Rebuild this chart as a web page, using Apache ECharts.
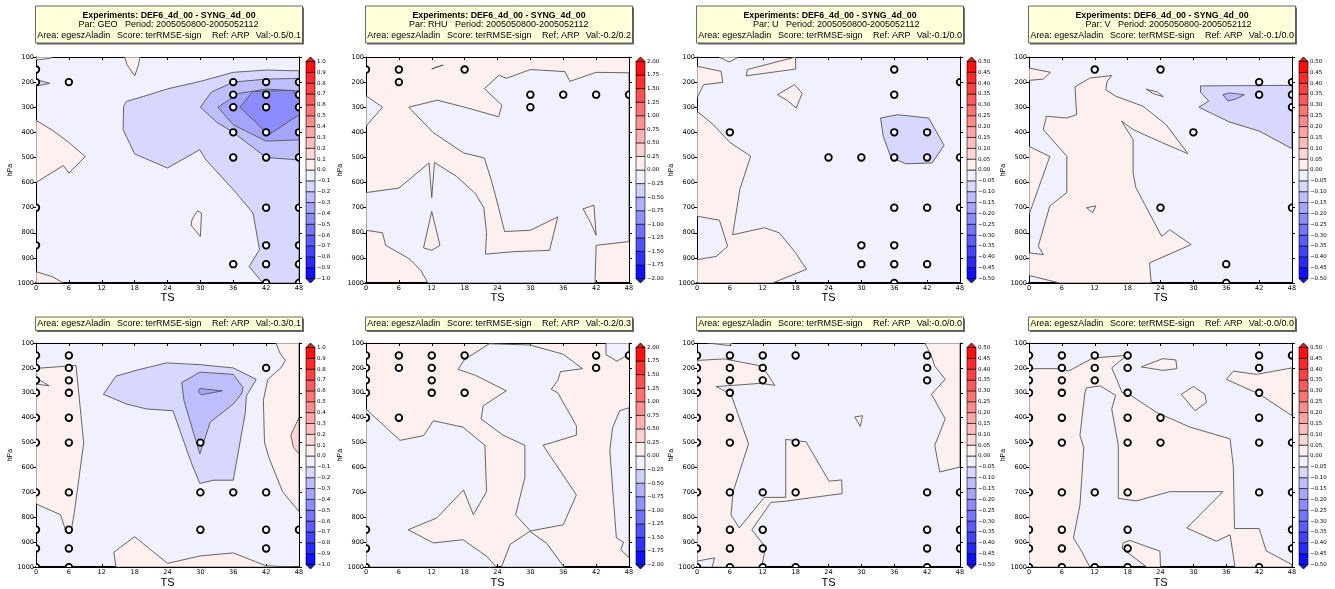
<!DOCTYPE html>
<html>
<head>
<meta charset="utf-8">
<script src="https://cdn.jsdelivr.net/npm/echarts@6/dist/echarts.min.js"></script>
<style>html,body{margin:0;background:#fff}#chart{width:1335px;height:589px}</style>
</head>
<body>
<div id="chart"></div>
<script>
// panel order: top row GEO, RHU, U, V; bottom row the same parameters
const parNames = ['GEO', 'RHU', 'U', 'V', 'GEO', 'RHU', 'U', 'V'];
const valTexts = ['-0.5/0.1', '-0.2/0.2', '-0.1/0.0', '-0.1/0.0', '-0.3/0.1', '-0.2/0.3', '-0.0/0.0', '-0.0/0.0'];
const barSteps = [0.1, 0.25, 0.05, 0.05, 0.1, 0.25, 0.05, 0.05];
const barBands = [10, 8, 10, 10, 10, 8, 10, 10];
const barDecimals = [1, 2, 2, 2, 1, 2, 2, 2];
// band index of the field where no contour region is drawn (-1 = just below 0, 1 = just above 0)
const bgLevels = [-1, 1, -1, -1, -1, 1, -1, -1];

// contour regions: [band index, [[TS, hPa], ...]]
const geoTopRegions = [
  [1, [[0, 100], [3, 100], [2.5, 106], [0, 112]]],
  [1, [[16.2, 100], [19, 100], [18.6, 140], [18, 175], [16.6, 130]]],
  [1, [[0, 352], [3, 392], [6, 440], [9, 497], [6, 562], [5, 532], [0, 600]]],
  [1, [[28.5, 745], [29.5, 712], [30.2, 722], [30, 815], [28.3, 770]]],
  [1, [[0, 955], [3, 975], [5, 1000], [0, 1000]]],
  [-2, [[0, 190], [2.5, 205], [0, 216]]],
  [-2, [[48, 155], [42, 152], [36, 161], [30, 197], [24, 227], [19.6, 257], [16.5, 277], [16, 296], [15.9, 389], [18, 486], [24, 542], [29.9, 469], [31, 509], [36, 628], [39.6, 721], [40.8, 867], [38.9, 934], [41.4, 1000], [48, 1000]]],
  [-3, [[48, 185], [42, 188], [36, 200], [32, 240], [30, 300], [33, 360], [36, 400], [42, 500], [48, 510]]],
  [-4, [[48, 235], [42, 228], [37, 245], [33.2, 300], [36, 370], [42, 435], [48, 430]]],
  [-5, [[37.2, 300], [39.6, 237], [46.9, 233], [48, 270], [48, 330], [42.5, 410]]]
];
const rhuTopRegions = [
  [-1, [[0, 254], [3, 300], [0, 376]]],
  [-1, [[12, 148], [14.1, 132], [12.7, 141]]],
  [-1, [[0, 640], [6, 622], [11.5, 522], [12, 660], [12.5, 520], [16.5, 575], [20, 645], [21.5, 700], [22, 800], [21.8, 885], [27, 875], [33.5, 870], [35, 737], [30, 790], [25.3, 795], [24.2, 700], [23, 600], [21.6, 502], [17.8, 482], [12.2, 400], [7.8, 300], [13, 272], [18, 300], [24.2, 338], [24.8, 292], [21.6, 226], [24.3, 172], [25.6, 185], [30, 150], [36.3, 158], [37.2, 197], [42, 161], [48, 163], [48, 835], [42, 850], [41.8, 1000], [11.3, 1000], [10, 950], [8, 905], [3.6, 850], [3, 800], [0, 790]]],
  [1, [[10.5, 860], [12, 715], [13.5, 850], [12, 870]]],
  [1, [[39.6, 705], [41.6, 690], [42, 810], [41, 760]]]
];
const uTopRegions = [
  [1, [[4, 100], [7.6, 100], [5.9, 120]]],
  [1, [[0, 137], [4.4, 157], [4.7, 201], [1.2, 210], [0, 263]]],
  [1, [[9, 175], [9.2, 150], [18, 100], [18, 148]]],
  [1, [[14.7, 250], [17.8, 210], [19.2, 245], [18.1, 303], [16.4, 272]]],
  [1, [[0, 316], [3, 370], [6, 440], [9.8, 495], [7.8, 628], [7.3, 700], [6.5, 808], [12.3, 780], [15, 800], [18, 880], [19.5, 930], [20, 945], [13.8, 1000], [0, 1000], [0, 907], [3.5, 894], [5.6, 854], [4.1, 750], [0, 734]]],
  [-2, [[33.5, 343], [36.6, 330], [42.3, 343], [45.1, 452], [42.9, 522], [38.1, 525], [35.4, 500], [34, 416]]]
];
const vTopRegions = [
  [1, [[0, 144], [3.9, 161], [2.6, 188], [0, 193]]],
  [1, [[0, 456], [3.8, 496], [0, 728]]],
  [1, [[15.1, 174], [14.3, 195], [14, 230], [15.8, 256], [20.8, 296], [25, 369], [29, 485], [24.4, 442], [19, 389], [16.9, 356], [19, 429], [19, 562], [19.5, 620], [24.2, 814], [25.7, 788], [29.6, 847], [22, 920], [22.3, 1000], [5.6, 1000], [0, 970], [0, 880], [2.6, 887], [1.7, 853], [3.8, 693], [6.9, 640], [6.9, 495], [2.6, 389], [3.2, 336], [6.9, 343], [8.7, 330], [8.4, 219], [11.1, 184]]],
  [-1, [[10.5, 700], [12.2, 693], [11.6, 720]]],
  [1, [[21.4, 228], [23.5, 240], [24.5, 258], [22.6, 245]]],
  [-2, [[31.3, 215], [48, 213], [48, 465], [42, 395], [36.5, 358], [31, 300], [32.8, 275], [31.3, 240]]],
  [-3, [[35.4, 250], [36.6, 243], [39.3, 250], [37.7, 268], [36.3, 275]]]
];
const geoBotRegions = [
  [1, [[0, 202], [7.3, 190], [7.8, 300], [8.7, 502], [7, 780], [6.5, 845], [5.5, 860], [4.5, 790], [0, 746]]],
  [-1, [[0, 240], [2.4, 272], [0, 265]]],
  [1, [[43.8, 100], [48, 100], [48, 777], [45, 697], [42.5, 560], [41.7, 498], [41.5, 330], [42.3, 246], [44.7, 200], [45.5, 170], [44.5, 140]]],
  [2, [[48, 400], [46.5, 470], [47, 520], [48, 545]]],
  [1, [[14.6, 1000], [14.2, 940], [18, 878], [24, 985], [30, 955], [36, 943], [42, 995], [48, 1000]]],
  [-2, [[12.3, 306], [14.6, 233], [18.4, 209], [23.8, 180], [29.9, 187], [36, 200], [40.2, 246], [38.4, 312], [38.2, 380], [36, 651], [32.4, 651], [29.9, 664], [28.5, 590], [26.6, 472], [25, 372], [20.2, 365], [16.5, 345]]],
  [-3, [[26.6, 259], [29.9, 217], [36, 226], [37.8, 279], [37.5, 305], [36, 345], [31.8, 418], [29.9, 545], [28.6, 450], [27, 330]]],
  [-4, [[29.6, 296], [29.9, 283], [34, 292], [30.2, 308]]]
];
const rhuBotRegions = [
  [-1, [[43.8, 100], [48, 100], [48, 145], [45.8, 173], [43.8, 147]]],
  [-1, [[16.8, 206], [18, 166], [22.5, 103], [29.9, 108], [36, 145], [39.5, 203], [35.5, 215], [35, 250], [33.8, 286], [35, 300], [38.4, 432], [38.4, 470], [32.3, 511], [38.4, 710], [36, 830], [30, 855], [27.3, 790], [29, 640], [29, 511], [25, 470], [21, 405], [21.4, 352], [25.6, 292], [20, 230]]],
  [-1, [[0, 365], [6.2, 491], [10.5, 472], [12.3, 412], [17.7, 438], [21.7, 511], [22, 697], [19.6, 790], [17.8, 690], [12.9, 803], [7.7, 850], [12.3, 903], [17.7, 890], [22, 956], [23.8, 1000], [0, 1000]]],
  [-1, [[24.7, 1000], [26.3, 909], [29.9, 856], [33, 905], [36, 996], [36.3, 1000]]],
  [-1, [[48, 360], [46.3, 372], [45, 440], [44.5, 531], [45.1, 710], [45.7, 883], [47, 900], [46.5, 930], [48, 962]]]
];
const uBotRegions = [
  [1, [[2, 100], [6.5, 100], [5.8, 110]]],
  [1, [[0, 170], [5, 164], [11.9, 193], [14.2, 270], [11.6, 262], [3.5, 275], [6.2, 306], [9.4, 505], [6.6, 697], [6.2, 790], [7.7, 843], [12.3, 720], [16.2, 720], [16.2, 487], [19.9, 497], [24.1, 655], [26.4, 650], [26.5, 705], [24, 712], [16.3, 735], [13.5, 740], [10, 850], [12.5, 920], [11.8, 1000], [0, 1000]]],
  [-1, [[0, 976], [3.2, 963], [2.8, 1000], [0, 1000]]],
  [1, [[41.6, 100], [48, 100], [48, 598], [44.3, 618], [43.4, 511], [45.3, 405], [42.8, 306], [45.3, 246], [43.4, 193], [42.8, 153]]],
  [1, [[28.8, 397], [30.2, 392], [29.8, 435]]]
];
const vBotRegions = [
  [1, [[0, 203], [6, 203], [7.2, 213], [11.7, 160], [17.8, 150], [15.1, 200], [16, 246], [17, 300], [17.8, 299], [23.3, 379], [29.4, 438], [36.7, 485], [37.3, 598], [37.5, 845], [42, 845], [43.3, 935], [48, 990], [48, 1000], [37.6, 1000], [36.7, 870], [34.2, 896], [28.8, 843], [35.4, 697], [25.7, 697], [19.6, 734], [16.3, 724], [16.3, 511], [15.1, 365], [15.8, 310], [13, 272], [10.5, 280], [10.2, 300], [9.3, 472], [10, 520], [9.3, 750], [8.1, 883], [9.6, 936], [11.1, 1000], [0, 1000]]],
  [1, [[17.2, 903], [18.4, 893], [23.9, 936], [24, 1000], [21.5, 1000], [17, 925]]],
  [1, [[20.5, 196], [24.4, 163], [26.8, 168], [27, 203], [24.4, 210]]],
  [1, [[27.8, 306], [30, 275], [32.1, 306], [32.4, 339], [30.3, 372]]],
  [1, [[36, 246], [37.3, 213], [41.5, 226], [48, 200], [48, 392], [42.1, 306]]]
];

// significance markers: [TS, hPa]
const geoTopCircles = [[0, 150], [0, 200], [6, 200], [36, 200], [42, 200], [48, 200], [36, 250], [42, 250], [48, 250], [36, 300], [42, 300], [48, 300], [36, 400], [42, 400], [48, 400], [36, 500], [42, 500], [48, 500], [0, 700], [42, 700], [48, 700], [0, 850], [42, 850], [48, 850], [36, 925], [42, 925], [48, 925], [42, 1000], [48, 1000]];
const rhuTopCircles = [[0, 150], [6, 150], [18, 150], [6, 200], [30, 250], [36, 250], [42, 250], [48, 250], [30, 300]];
const uTopCircles = [[36, 150], [48, 200], [36, 250], [6, 400], [36, 400], [42, 400], [24, 500], [30, 500], [36, 500], [42, 500], [48, 500], [36, 700], [42, 700], [48, 700], [30, 850], [36, 850], [30, 925], [36, 925], [42, 925], [36, 1000]];
const vTopCircles = [[12, 150], [24, 150], [42, 200], [48, 200], [42, 250], [48, 250], [48, 300], [30, 400], [24, 700], [48, 700], [36, 925], [36, 1000]];
const geoBotCircles = [[0, 150], [6, 150], [0, 200], [6, 200], [42, 200], [0, 250], [6, 250], [0, 300], [6, 300], [0, 400], [6, 400], [0, 500], [6, 500], [30, 500], [0, 700], [6, 700], [30, 700], [36, 700], [42, 700], [0, 850], [6, 850], [30, 850], [42, 850], [48, 850], [0, 925], [6, 925], [42, 925], [0, 1000], [6, 1000]];
const rhuBotCircles = [[0, 150], [6, 150], [12, 150], [18, 150], [42, 150], [48, 150], [0, 200], [6, 200], [12, 200], [42, 200], [0, 250], [12, 250], [0, 300], [12, 300], [18, 300], [0, 400], [6, 400], [0, 850], [0, 925], [0, 1000]];
const uBotCircles = [[0, 150], [6, 150], [12, 150], [18, 150], [42, 150], [0, 200], [6, 200], [12, 200], [42, 200], [0, 250], [6, 250], [12, 250], [42, 250], [0, 300], [6, 300], [0, 400], [6, 400], [0, 500], [6, 500], [18, 500], [0, 700], [6, 700], [12, 700], [18, 700], [42, 700], [48, 700], [0, 850], [6, 850], [12, 850], [42, 850], [48, 850], [0, 925], [6, 925], [12, 925], [42, 925], [48, 925], [0, 1000], [6, 1000], [12, 1000], [18, 1000], [42, 1000]];
const vBotCircles = [[0, 150], [6, 150], [12, 150], [18, 150], [42, 150], [48, 150], [0, 200], [6, 200], [12, 200], [18, 200], [42, 200], [0, 250], [6, 250], [12, 250], [0, 300], [6, 300], [18, 300], [42, 300], [0, 400], [6, 400], [18, 400], [24, 400], [42, 400], [0, 500], [6, 500], [18, 500], [24, 500], [42, 500], [48, 500], [0, 700], [6, 700], [12, 700], [18, 700], [42, 700], [48, 700], [0, 850], [6, 850], [18, 850], [48, 850], [0, 925], [6, 925], [18, 925], [48, 925], [0, 1000], [6, 1000], [12, 1000], [18, 1000], [42, 1000]];

const panelRegions = [geoTopRegions, rhuTopRegions, uTopRegions, vTopRegions, geoBotRegions, rhuBotRegions, uBotRegions, vBotRegions];
const panelCircles = [geoTopCircles, rhuTopCircles, uTopCircles, vTopCircles, geoBotCircles, rhuBotCircles, uBotCircles, vBotCircles];

const FONT = '"Liberation Sans", Arial, sans-serif';
const TICKFONT = '"DejaVu Sans", sans-serif';
const colLefts = [36, 366, 697, 1029];
const rowTops = [57, 343];

function bandColor(level, n) {
  const g = Math.round(240 - (Math.abs(level) - 1) * 224 / (n - 1));
  return level > 0 ? `rgb(255,${g},${g})` : `rgb(${g},${g},255)`;
}

const chart = echarts.init(document.getElementById('chart'));
const grid = [], xAxis = [], yAxis = [], series = [], graphic = [];

for (let i = 0; i < 8; i++) {
  const L = colLefts[i % 4], T = rowTops[Math.floor(i / 4)];
  const n = barBands[i], step = barSteps[i];
  const regions = panelRegions[i];

  const pg = grid.length;
  grid.push({ left: L, top: T, width: 263, height: 226, show: true, backgroundColor: bandColor(bgLevels[i], n), borderWidth: 0 });
  const px = xAxis.length, py = yAxis.length;
  xAxis.push({
    gridIndex: pg, type: 'value', min: 0, max: 48, interval: 6, position: 'bottom',
    axisLine: { onZero: false, lineStyle: { color: '#000', width: 2 } },
    axisTick: { inside: true, length: 3, lineStyle: { color: '#000' } },
    axisLabel: { fontSize: 6.5, margin: 2, color: '#000', fontFamily: TICKFONT },
    splitLine: { show: false },
    name: 'TS', nameLocation: 'middle', nameGap: 4.5,
    nameTextStyle: { fontSize: 11, color: '#000', fontFamily: FONT }
  });
  xAxis.push({
    gridIndex: pg, type: 'value', min: 0, max: 48, interval: 6, position: 'top',
    axisLine: { onZero: false, lineStyle: { color: '#000', width: 1 } },
    axisTick: { inside: true, length: 3, lineStyle: { color: '#000' } },
    axisLabel: { show: false }, splitLine: { show: false }
  });
  yAxis.push({
    gridIndex: pg, type: 'value', inverse: true, min: 100, max: 1000, interval: 100, position: 'left',
    axisLine: { onZero: false, lineStyle: { color: '#000', width: 1 } },
    axisTick: { length: 3, lineStyle: { color: '#000' } },
    axisLabel: { fontSize: 6.5, margin: 2, color: '#000', fontFamily: TICKFONT, formatter: v => String(v) },
    splitLine: { show: false },
    name: 'hPa', nameLocation: 'middle', nameGap: 21,
    nameTextStyle: { fontSize: 7, color: '#000', fontFamily: FONT }
  });
  yAxis.push({
    gridIndex: pg, type: 'value', inverse: true, min: 100, max: 1000, interval: 100, position: 'right',
    axisLine: { onZero: false, lineStyle: { color: '#000', width: 1 } },
    axisTick: { length: 3, lineStyle: { color: '#000' } },
    axisLabel: { show: false }, splitLine: { show: false }
  });

  series.push({
    type: 'custom', xAxisIndex: px, yAxisIndex: py, clip: true, silent: true,
    data: regions.map(r => r[1][0]),
    renderItem: (params, api) => {
      const [level, pts] = regions[params.dataIndex];
      return {
        type: 'polygon',
        shape: { points: pts.map(p => api.coord(p)) },
        style: { fill: bandColor(level, n), stroke: '#555', lineWidth: 0.9 }
      };
    }
  });
  series.push({
    type: 'custom', xAxisIndex: px, yAxisIndex: py, clip: true, silent: true, z: 3,
    data: panelCircles[i],
    renderItem: (params, api) => {
      const c = api.coord([api.value(0), api.value(1)]);
      return {
        type: 'circle', shape: { cx: c[0], cy: c[1], r: 3.3 },
        style: { fill: '#fff', stroke: '#000', lineWidth: 1.8 }
      };
    }
  });

  // colour bar
  const cg = grid.length;
  grid.push({ left: L + 270, top: T + 4.5, width: 9, height: 217 });
  const cx = xAxis.length, cy = yAxis.length;
  xAxis.push({ gridIndex: cg, type: 'value', min: 0, max: 1, show: false });
  yAxis.push({
    gridIndex: cg, type: 'value', min: -n * step, max: n * step, interval: step, position: 'right',
    axisLine: { show: false },
    axisTick: { length: 3, lineStyle: { color: '#000' } },
    splitLine: { show: false },
    axisLabel: {
      fontSize: 5.5, margin: 2, color: '#000', fontFamily: TICKFONT,
      formatter: v => v.toFixed(barDecimals[i]).replace('-', '\u2212')
    }
  });
  const bands = [];
  for (let k = -n; k <= n; k++) if (k !== 0) bands.push(k);
  series.push({
    type: 'custom', xAxisIndex: cx, yAxisIndex: cy, silent: true, z: 3,
    data: bands.map(k => [0.5, k > 0 ? (k - 0.5) * step : (k + 0.5) * step]),
    renderItem: (params, api) => {
      const k = bands[params.dataIndex];
      const lo = k > 0 ? (k - 1) * step : k * step;
      const hi = k > 0 ? k * step : (k + 1) * step;
      const p1 = api.coord([0, hi]), p2 = api.coord([1, lo]);
      const fill = bandColor(k, n);
      const children = [{
        type: 'rect',
        shape: { x: p1[0], y: p1[1], width: p2[0] - p1[0], height: p2[1] - p1[1] },
        style: { fill, stroke: '#000', lineWidth: 0.6 }
      }];
      if (k === n) {
        children.push({ type: 'polygon', shape: { points: [[p1[0], p1[1]], [p2[0], p1[1]], [(p1[0] + p2[0]) / 2, p1[1] - 4.5]] }, style: { fill, stroke: '#000', lineWidth: 0.8 } });
      }
      if (k === -n) {
        children.push({ type: 'polygon', shape: { points: [[p1[0], p2[1]], [p2[0], p2[1]], [(p1[0] + p2[0]) / 2, p2[1] + 4.5]] }, style: { fill, stroke: '#000', lineWidth: 0.8 } });
      }
      return { type: 'group', children };
    }
  });

  // header box
  const top = i < 4;
  const bx = L - 0.5, by = top ? 6 : 317, bh = top ? 37 : 13.5;
  graphic.push({ type: 'rect', shape: { x: bx + 1.5, y: by + 1.5, width: 267, height: bh }, style: { fill: '#6a6a6a' }, silent: true });
  graphic.push({ type: 'rect', shape: { x: bx, y: by, width: 267, height: bh }, style: { fill: '#ffffda', stroke: '#444', lineWidth: 0.8 }, silent: true });
  const t = (text, x, y, align, bold, size) => ({
    type: 'text', silent: true, x, y,
    style: { text, fontSize: size || 9, fontFamily: FONT, fontWeight: bold ? 'bold' : 'normal', fill: '#000', textAlign: align, textVerticalAlign: 'middle' }
  });
  const ly = top ? by + 29.7 : by + 7;
  if (top) {
    graphic.push(t('Experiments: DEF6_4d_00 - SYNG_4d_00', bx + 133.5, by + 9.4, 'center', true, 8.8));
    graphic.push(t('Par: ' + parNames[i], bx + 82, by + 18.8, 'right', false));
    graphic.push(t('Period: 2005050800-2005052112', bx + 89.5, by + 18.8, 'left', false));
  }
  graphic.push(t('Area: egeszAladin', bx + 1.8, ly, 'left', false));
  graphic.push(t('Score: terRMSE-sign', bx + 81.5, ly, 'left', false));
  graphic.push(t('Ref: ARP', bx + 176.5, ly, 'left', false));
  graphic.push(t('Val:' + valTexts[i], bx + 265.5, ly, 'right', false));
}

chart.setOption({ animation: false, grid, xAxis, yAxis, series, graphic });
</script>
</body>
</html>
